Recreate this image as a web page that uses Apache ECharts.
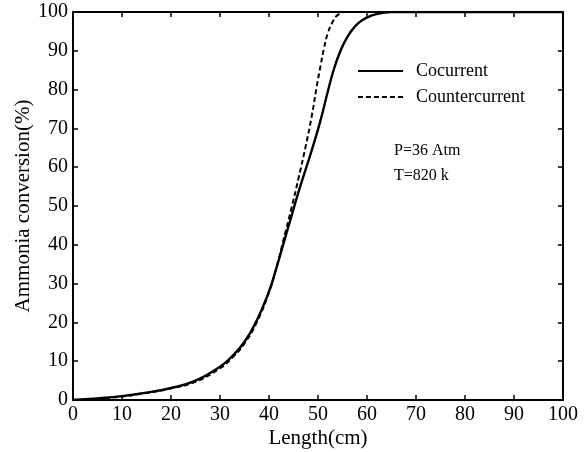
<!DOCTYPE html>
<html>
<head>
<meta charset="utf-8">
<script src="https://cdn.jsdelivr.net/npm/echarts@6/dist/echarts.min.js"></script>
<style>
  html, body { margin: 0; padding: 0; background: #fff; }
  #chart { width: 587px; height: 452px; }
</style>
</head>
<body>
<div id="chart"></div>
<script>
// Ammonia conversion along the reactor length, [length cm, conversion %]
const cocurrent = [
  [0, 0], [5, 0.4], [10, 1.0], [15, 1.9], [20, 3.1], [25, 5.0], [30, 8.6],
  [32.5, 11.3], [35, 15], [37.5, 20.5], [40, 28], [41.5, 34], [43, 40.5],
  [44.5, 47], [46, 53.5], [47.5, 59.5], [49, 65.5], [50.5, 72], [52, 79.5],
  [53.3, 85.5], [54.6, 90], [56, 93.6], [57.5, 96.2], [59, 97.9],
  [61, 99.1], [63, 99.7], [65, 100], [70, 100], [80, 100], [90, 100], [100, 100]
];
const countercurrent = [
  [0, 0], [5, 0.3], [10, 0.9], [15, 1.8], [20, 3.0], [25, 4.7], [30, 8.2],
  [32.5, 10.9], [35, 14.6], [37.5, 20], [40, 27.8], [41.5, 34], [43, 41.5],
  [44.5, 49], [46, 57], [47.5, 65.5], [48.7, 73], [49.7, 80.5], [50.5, 86],
  [51.2, 90.5], [52, 94.5], [53, 97.5], [54, 99.2], [55.5, 100], [60, 100],
  [70, 100], [80, 100], [90, 100], [100, 100]
];
const seriesNames = ['Cocurrent', 'Countercurrent'];
const notes = ['P=36 Atm', 'T=820 k'];

const FONT = '"Liberation Serif", "Times New Roman", serif';
const chart = echarts.init(document.getElementById('chart'));

const frameAxis = {
  axisLine: { show: true, onZero: false, lineStyle: { color: '#000', width: 2 } },
  axisTick: { show: true, inside: true, length: 5, lineStyle: { color: '#000', width: 1.5 } },
  splitLine: { show: false }
};

chart.setOption({
  animation: false,
  backgroundColor: '#fff',
  grid: { left: 73, right: 24, top: 12, bottom: 52, outerBoundsMode: 'none', containLabel: false },
  legend: {
    orient: 'vertical',
    left: 352,
    top: 57,
    itemWidth: 45,
    itemHeight: 14,
    itemGap: 8,
    itemStyle: { opacity: 0 },
    textStyle: { fontFamily: FONT, fontSize: 18, color: '#000', padding: [0, 0, 0, 8] },
    data: seriesNames
  },
  xAxis: [
    Object.assign({
      type: 'value', min: 0, max: 100, interval: 10,
      name: 'Length(cm)', nameLocation: 'middle', nameGap: 28, nameMoveOverlap: false,
      nameTextStyle: { fontFamily: FONT, fontSize: 21, color: '#000' },
      axisLabel: { fontFamily: FONT, fontSize: 20, color: '#000', margin: 5 }
    }, frameAxis),
    Object.assign({
      type: 'value', min: 0, max: 100, interval: 10, position: 'top',
      axisLabel: { show: false }
    }, frameAxis)
  ],
  yAxis: [
    Object.assign({
      type: 'value', min: 0, max: 100, interval: 10,
      name: 'Ammonia conversion(%)', nameLocation: 'middle', nameGap: 39, nameMoveOverlap: false,
      nameTextStyle: { fontFamily: FONT, fontSize: 21, color: '#000' },
      axisLabel: { fontFamily: FONT, fontSize: 20, color: '#000', margin: 5 }
    }, frameAxis),
    Object.assign({
      type: 'value', min: 0, max: 100, interval: 10, position: 'right',
      axisLabel: { show: false }
    }, frameAxis)
  ],
  graphic: notes.map((t, i) => ({
    type: 'text',
    left: 394,
    top: 143 + i * 25,
    style: { text: t, font: '16px ' + FONT, fill: '#000' }
  })),
  series: [
    {
      name: seriesNames[0], type: 'line', data: cocurrent,
      showSymbol: false, symbol: 'none', smooth: 0.5,
      lineStyle: { color: '#000', width: 2.4, type: 'solid' },
      itemStyle: { color: '#000' }
    },
    {
      name: seriesNames[1], type: 'line', data: countercurrent,
      showSymbol: false, symbol: 'none', smooth: 0.5,
      lineStyle: { color: '#000', width: 2, type: [5, 3] },
      itemStyle: { color: '#000' }
    }
  ]
});
</script>
</body>
</html>
